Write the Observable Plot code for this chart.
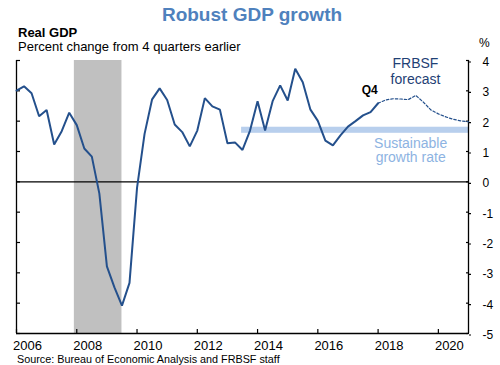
<!DOCTYPE html>
<html>
<head>
<meta charset="utf-8">
<script src="https://cdn.jsdelivr.net/npm/d3@7"></script>
<script src="https://cdn.jsdelivr.net/npm/@observablehq/plot@0.6"></script>
<style>
  html, body { margin: 0; padding: 0; background: #fff; }
  #chart { width: 500px; height: 365px; }
</style>
</head>
<body>
<div id="chart"></div>
<script>
// ---- Data ----
// Real GDP, % change from 4 quarters earlier, 2005Q4 .. 2017Q4 (actual)
const actualStart = { year: 2005, quarter: 4 };
const gdpActual = [3.01, 3.15, 2.92, 2.16, 2.37, 1.23, 1.67, 2.28, 1.87, 1.10, 0.83, -0.39,
  -2.79, -3.48, -4.08, -3.33, -0.20, 1.58, 2.72, 3.08, 2.70, 1.89, 1.64, 1.17, 1.69, 2.76,
  2.49, 2.38, 1.27, 1.30, 1.05, 1.69, 2.66, 1.69, 2.66, 3.18, 2.68, 3.73, 3.28, 2.39, 2.01,
  1.36, 1.20, 1.53, 1.82, 2.00, 2.19, 2.30, 2.59];
// FRBSF forecast, 2017Q4 .. 2020Q4
const forecastStart = { year: 2017, quarter: 4 };
const gdpForecast = [2.59, 2.70, 2.74, 2.73, 2.71, 2.85, 2.63, 2.37, 2.24, 2.14, 2.06, 2.01, 1.98];
// Recession (Dec 2007 - Jun 2009)
const recessionStart = [2007.92];
const recessionEnd = [2009.5];
// Sustainable growth rate band
const sustainableFrom = [2013.47];
const sustainableTo = [2021];
const sustainableLow = [1.6];
const sustainableHigh = [1.8];
// Axes
const xDomain = [2006, 2021];
const yDomain = [-5, 4];
const xTicks = [2006, 2008, 2010, 2012, 2014, 2016, 2018, 2020];
const yTicks = [-5, -4, -3, -2, -1, 0, 1, 2, 3, 4];

// quarter label -> position at end of quarter
function quarterRows(start, values) {
  return values.map((v, i) => {
    const q0 = start.quarter - 1 + i;
    const year = start.year + Math.floor(q0 / 4);
    const quarter = (q0 % 4) + 1;
    return { label: `${year}Q${quarter}`, t: year + quarter / 4, value: v };
  });
}
const actual = quarterRows(actualStart, gdpActual);
const forecast = quarterRows(forecastStart, gdpForecast);
const recession = recessionStart.map((s, i) => ({ x1: s, x2: recessionEnd[i] }));
const band = sustainableFrom.map((s, i) => ({ x1: s, x2: sustainableTo[i], y1: sustainableLow[i], y2: sustainableHigh[i] }));

const font = "Liberation Sans, Arial, Helvetica, sans-serif";
const lineColor = "#24508c";

const plot = Plot.plot({
  width: 500,
  height: 365,
  marginLeft: 16,
  marginRight: 32,
  marginTop: 60,
  marginBottom: 32,
  style: { fontFamily: font, fontSize: "12px", color: "#000", background: "#fff", overflow: "visible" },
  x: { domain: xDomain, label: null },
  y: { domain: yDomain, label: null },
  marks: [
    Plot.rect(recession, { x1: "x1", x2: "x2", fill: "#c0c0c0" }),
    Plot.rect(band, { x1: "x1", x2: "x2", y1: "y1", y2: "y2", fill: "#b8cfed" }),
    Plot.ruleY([0], { stroke: "#000", strokeWidth: 1.4 }),
    // axis lines
    Plot.ruleX([xDomain[0], xDomain[1]], { stroke: "#000", strokeWidth: 1.3 }),
    Plot.ruleY([yDomain[0]], { stroke: "#000", strokeWidth: 1.3 }),
    // left axis inward ticks
    Plot.axisY({ anchor: "left", ticks: yTicks, tickSize: -4, tickFormat: () => "", strokeWidth: 1.2 }),
    // right axis ticks (crossing) and labels
    Plot.axisY({ anchor: "right", ticks: yTicks, tickSize: -3, tickFormat: () => "", strokeWidth: 1.2 }),
    Plot.axisY({ anchor: "right", ticks: yTicks, tickSize: 2, tickPadding: 12, dy: 1.5,
      tickFormat: d => String(d), fontSize: 12, textAnchor: "start", strokeWidth: 1.2 }),
    // bottom axis upward ticks and labels
    Plot.axisX({ anchor: "bottom", ticks: xTicks, tickSize: -4, tickFormat: () => "", strokeWidth: 1.2 }),
    Plot.axisX({ anchor: "bottom", ticks: xTicks, tickSize: 0, tickPadding: 7, dx: 11,
      tickFormat: d => String(d), fontSize: 13 }),
    // series
    Plot.line(forecast, { x: "t", y: "value", stroke: lineColor, strokeWidth: 1.2, strokeDasharray: "2.5,2" }),
    Plot.line(actual, { x: "t", y: "value", stroke: lineColor, strokeWidth: 2, strokeLinejoin: "miter" }),
    // annotations
    Plot.text(["Q4"], { x: 2017.72, y: 2.91, text: d => d, fontWeight: "bold", fontSize: 12, lineAnchor: "bottom", fill: "#000" }),
    Plot.text(["FRBSF"], { x: 2019.24, y: 3.74, text: d => d, fontSize: 14, lineAnchor: "bottom", fill: "#1f4175" }),
    Plot.text(["forecast"], { x: 2019.24, y: 3.21, text: d => d, fontSize: 14, lineAnchor: "bottom", fill: "#1f4175" }),
    Plot.text(["Sustainable"], { x: 2019.08, y: 1.13, text: d => d, fontSize: 14, lineAnchor: "bottom", fill: "#8db3e2" }),
    Plot.text(["growth rate"], { x: 2019.08, y: 0.64, text: d => d, fontSize: 14, lineAnchor: "bottom", fill: "#8db3e2" })
  ]
});

const svg = d3.select(plot);
svg.append("text").attr("x", 252).attr("y", 21).attr("text-anchor", "middle")
  .attr("font-family", font).attr("font-size", 19).attr("font-weight", "bold")
  .attr("fill", "#4f81bd").text("Robust GDP growth");
svg.append("text").attr("x", 18).attr("y", 37).attr("text-anchor", "start")
  .attr("font-family", font).attr("font-size", 13).attr("font-weight", "bold")
  .attr("fill", "#000").text("Real GDP");
svg.append("text").attr("x", 18).attr("y", 51).attr("text-anchor", "start")
  .attr("font-family", font).attr("font-size", 13)
  .attr("fill", "#000").text("Percent change from 4 quarters earlier");
svg.append("text").attr("x", 479).attr("y", 47).attr("text-anchor", "start")
  .attr("font-family", font).attr("font-size", 12)
  .attr("fill", "#000").text("%");
svg.append("text").attr("x", 17).attr("y", 363).attr("text-anchor", "start")
  .attr("font-family", font).attr("font-size", 10.8)
  .attr("fill", "#000").text("Source: Bureau of Economic Analysis and FRBSF staff");

document.getElementById("chart").appendChild(plot);
</script>
</body>
</html>
